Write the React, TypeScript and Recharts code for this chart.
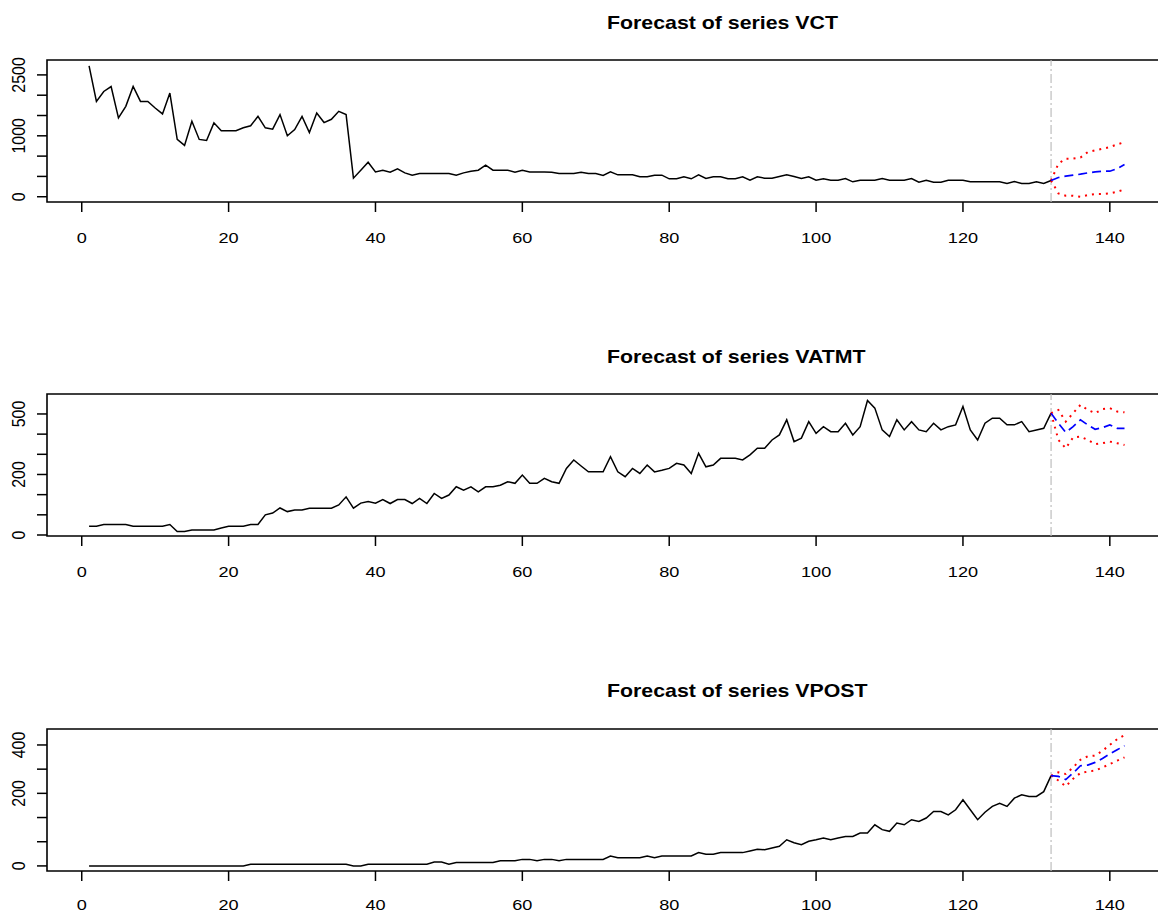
import React from 'react';
import { LineChart, Line, XAxis, YAxis, ReferenceLine, ReferenceArea } from 'recharts';

// observed series, t = 1..132
const vctObs = [
  3220, 2347, 2592, 2714, 1941, 2225, 2714, 2347, 2347, 2185,
  2039, 2552, 1411, 1264, 1858, 1411, 1386, 1819, 1623, 1623,
  1623, 1697, 1746, 1980, 1697, 1663, 2022, 1501, 1655, 1980,
  1582, 2063, 1826, 1907, 2103, 2022, 457, 653, 848, 611,
  653, 604, 685, 587, 531, 572, 572, 572, 572, 572,
  531, 587, 628, 653, 775, 653, 653, 653, 604, 653,
  611, 611, 611, 604, 572, 572, 572, 604, 572, 572,
  525, 611, 539, 539, 539, 490, 490, 531, 531, 441,
  441, 490, 441, 539, 449, 490, 490, 441, 441, 490,
  408, 490, 457, 457, 498, 539, 498, 449, 490, 408,
  441, 408, 408, 449, 367, 408, 408, 408, 449, 408,
  408, 408, 449, 359, 408, 359, 359, 408, 408, 408,
  367, 367, 367, 367, 367, 327, 375, 327, 327, 367,
  327, 400,
];
const vatmtObs = [
  43, 43, 52, 52, 52, 52, 43, 43, 43, 43,
  43, 52, 17, 17, 25, 25, 25, 25, 35, 43,
  43, 43, 52, 52, 100, 109, 134, 116, 124, 124,
  133, 133, 133, 133, 149, 189, 133, 158, 166, 158,
  176, 156, 176, 176, 156, 181, 156, 206, 181, 198,
  239, 222, 239, 214, 239, 239, 247, 264, 256, 297,
  256, 256, 281, 264, 256, 330, 372, 342, 313, 313,
  313, 388, 313, 289, 330, 305, 347, 313, 321, 330,
  355, 347, 305, 405, 338, 347, 380, 380, 380, 372,
  397, 430, 430, 471, 496, 571, 463, 480, 562, 504,
  537, 512, 512, 554, 496, 537, 667, 629, 521, 488,
  571, 521, 562, 521, 512, 554, 521, 537, 546, 637,
  521, 471, 554, 579, 579, 546, 546, 562, 512, 521,
  529, 604,
];
const vpostObs = [
  0, 0, 0, 0, 0, 0, 0, 0, 0, 0,
  0, 0, 0, 0, 0, 0, 0, 0, 0, 0,
  0, 0, 7, 7, 7, 7, 7, 7, 7, 7,
  7, 7, 7, 7, 7, 7, 0, 0, 7, 7,
  7, 7, 7, 7, 7, 7, 7, 16, 16, 7,
  14, 14, 14, 14, 14, 14, 21, 21, 21, 27,
  27, 21, 27, 27, 21, 27, 27, 27, 27, 27,
  27, 41, 34, 34, 34, 34, 41, 34, 41, 41,
  41, 41, 41, 55, 48, 48, 55, 55, 55, 55,
  62, 69, 67, 74, 81, 108, 96, 88, 102, 108,
  115, 108, 115, 122, 122, 136, 136, 170, 150, 143,
  177, 170, 191, 184, 198, 225, 225, 211, 232, 273,
  232, 191, 222, 246, 259, 246, 280, 294, 287, 287,
  307, 373,
];

// forecasts, t = 132..142 (first value = last observation)
const vctMean = [400, 474, 506, 531, 555, 587, 611, 628, 628, 693, 791];
const vctUpper = [400, 815, 938, 938, 963, 1100, 1142, 1183, 1222, 1289, 1345];
const vctLower = [400, 83, 24, 24, 0, 42, 66, 66, 83, 122, 181];

const vatmtMean = [604, 554, 509, 537, 571, 546, 524, 532, 546, 529, 529];
const vatmtUpper = [604, 620, 562, 604, 645, 620, 604, 624, 629, 612, 608];
const vatmtLower = [604, 471, 430, 484, 488, 471, 450, 455, 463, 455, 446];

const vpostMean = [373, 370, 357, 384, 414, 417, 428, 444, 463, 480, 497];
const vpostUpper = [373, 387, 380, 407, 439, 453, 456, 476, 500, 524, 541];
const vpostLower = [373, 353, 329, 360, 384, 390, 394, 407, 421, 435, 449];

const xTicks = [0, 20, 40, 60, 80, 100, 120, 140];

const vctTicks = [0, 500, 1000, 1500, 2000, 2500, 3000];
const vctTickLabels = ['0', '', '', '1000', '', '', '2500'];
const vatmtTicks = [0, 100, 200, 300, 400, 500, 600];
const vatmtTickLabels = ['0', '', '', '200', '', '', '500'];
const vpostTicks = [0, 100, 200, 300, 400, 500];
const vpostTickLabels = ['0', '', '', '200', '', '400'];

const FONT = '"Liberation Sans", Arial, Helvetica, sans-serif';
const X_DOMAIN: [number, number] = [-4.73, 147.65];
const CHART_W = 1166;
const PLOT_H = 142;
const M_TOP = 10;
const TITLE_X = 607;

function buildRows(obs: number[], mean: number[], upper: number[], lower: number[]) {
  const n = obs.length;
  const rows = [];
  for (let t = 1; t <= n + mean.length - 1; t++) {
    const k = t - n;
    rows.push({
      t,
      obs: t <= n ? obs[t - 1] : null,
      mean: k >= 0 ? mean[k] : null,
      upper: k >= 0 ? upper[k] : null,
      lower: k >= 0 ? lower[k] : null,
    });
  }
  return rows;
}

const makeXTick = (gap: number) => (props: any) => {
  const { x, y, payload } = props;
  return (
    <g transform={`translate(${x},${y + gap}) scale(1.17,1)`}>
      <text x={0} y={0} dy="0.71em" textAnchor="middle" fontFamily={FONT} fontSize={15.5} fill="#000">
        {payload.value}
      </text>
    </g>
  );
};

const makeYTick = (ticks: number[], labels: string[]) => (props: any) => {
  const { y, payload } = props;
  const label = labels[ticks.indexOf(payload.value)];
  if (!label) return <g />;
  return (
    <text
      transform={`translate(25,${y}) scale(1.15,1) rotate(-90)`}
      textAnchor="middle"
      fontFamily={FONT}
      fontSize={16}
      fill="#000"
    >
      {label}
    </text>
  );
};

type PanelProps = {
  top: number;
  titleBase: number;
  title: string;
  obs: number[];
  mean: number[];
  upper: number[];
  lower: number[];
  yDomain: [number, number];
  yTicks: number[];
  yLabels: string[];
  axisH: number;
  labelGap: number;
};

function Panel({ top, titleBase, title, obs, mean, upper, lower, yDomain, yTicks, yLabels, axisH, labelGap }: PanelProps) {
  const data = buildRows(obs, mean, upper, lower);
  return (
    <>
      <svg width={1158} height={40} style={{ position: 'absolute', left: 0, top: titleBase - 30 }}>
        <g transform={`translate(${TITLE_X},30) scale(1.185,1)`}>
          <text x={0} y={0} textAnchor="start" fontFamily={FONT} fontWeight="bold" fontSize={18} fill="#000">
            {title}
          </text>
        </g>
      </svg>
      <div style={{ position: 'absolute', left: 0, top: top - M_TOP }}>
        <LineChart
          width={CHART_W}
          height={M_TOP + PLOT_H + axisH}
          data={data}
          margin={{ top: M_TOP, right: 0, bottom: 0, left: 0 }}
        >
          <XAxis
            dataKey="t"
            type="number"
            domain={X_DOMAIN}
            allowDataOverflow
            ticks={xTicks}
            interval={0}
            height={axisH}
            tickSize={10}
            tickMargin={0}
            axisLine={false}
            tickLine={{ stroke: '#000', strokeWidth: 1.5 }}
            tick={makeXTick(labelGap)}
          />
          <YAxis
            type="number"
            domain={yDomain}
            allowDataOverflow
            ticks={yTicks}
            interval={0}
            width={47}
            tickSize={10}
            tickMargin={0}
            axisLine={false}
            tickLine={{ stroke: '#000', strokeWidth: 1.5 }}
            tick={makeYTick(yTicks, yLabels)}
          />
          <ReferenceLine x={obs.length} stroke="#bebebe" strokeWidth={1.2} strokeDasharray="9 3 2 3" />
          <Line dataKey="obs" stroke="#000" strokeWidth={1.5} dot={false} isAnimationActive={false} />
          <Line dataKey="upper" stroke="#ff0000" strokeWidth={2} strokeDasharray="2 5" dot={false} isAnimationActive={false} />
          <Line dataKey="lower" stroke="#ff0000" strokeWidth={2} strokeDasharray="2 5" dot={false} isAnimationActive={false} />
          <Line dataKey="mean" stroke="#0000ff" strokeWidth={1.7} strokeDasharray="9 5" dot={false} isAnimationActive={false} />
          <ReferenceArea
            x1={X_DOMAIN[0]}
            x2={X_DOMAIN[1]}
            y1={yDomain[0]}
            y2={yDomain[1]}
            fill="none"
            stroke="#000"
            strokeWidth={1.6}
          />
        </LineChart>
      </div>
    </>
  );
}

export default function App() {
  return (
    <div
      style={{
        position: 'absolute',
        left: 0,
        top: 0,
        width: 1158,
        height: 913,
        overflow: 'hidden',
        background: '#fff',
      }}
    >
      <Panel
        top={59.5}
        titleBase={28.5}
        title="Forecast of series VCT"
        obs={vctObs}
        mean={vctMean}
        upper={vctUpper}
        lower={vctLower}
        yDomain={[-130, 3367]}
        yTicks={vctTicks}
        yLabels={vctTickLabels}
        axisH={60}
        labelGap={20}
      />
      <Panel
        top={394}
        titleBase={362.5}
        title="Forecast of series VATMT"
        obs={vatmtObs}
        mean={vatmtMean}
        upper={vatmtUpper}
        lower={vatmtLower}
        yDomain={[-5, 699]}
        yTicks={vatmtTicks}
        yLabels={vatmtTickLabels}
        axisH={60}
        labelGap={20}
      />
      <Panel
        top={728.5}
        titleBase={697}
        title="Forecast of series VPOST"
        obs={vpostObs}
        mean={vpostMean}
        upper={vpostUpper}
        lower={vpostLower}
        yDomain={[-21, 566]}
        yTicks={vpostTicks}
        yLabels={vpostTickLabels}
        axisH={41.5}
        labelGap={17.5}
      />
    </div>
  );
}
